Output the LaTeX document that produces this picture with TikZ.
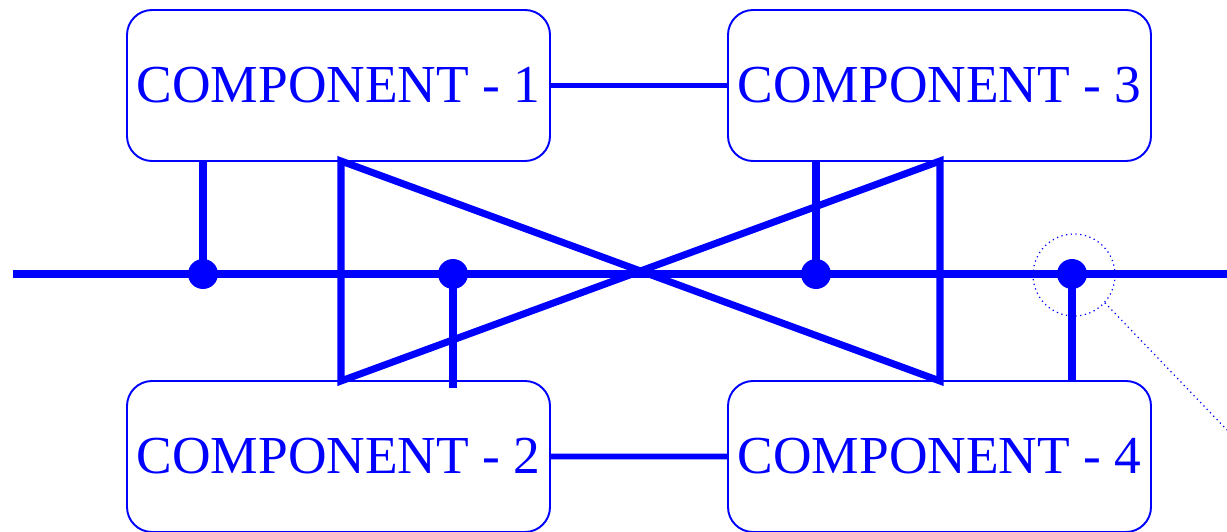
\documentclass[tikz,border=0pt]{standalone}
\usepackage{fontspec}
\setmainfont{Liberation Serif}
\usepackage{tikz}

\begin{document}
\begin{tikzpicture}[scale=0.2]
		\tikzstyle{every node}+=[inner sep=0pt]
		\tikzstyle{comp}=[draw=blue, line width=1.1pt, rounded corners=0.5cm, minimum width=8.46cm, minimum height=3.02cm, text=blue, font=\fontsize{30.4}{36}\selectfont]
		\tikzstyle{wire}=[blue, line width=4pt]
		\tikzstyle{tap}=[circle, fill=blue, minimum size=0.6cm]
		\useasboundingbox (0,0) rectangle (122.7,-53.2);
		\node [comp] (c1) at (33.85,-8.55) {COMPONENT - 1};
		\node [comp] (c3) at (93.95,-8.55) {COMPONENT - 3};
		\node [comp] (c2) at (33.85,-45.65) {COMPONENT - 2};
		\node [comp] (c4) at (93.95,-45.65) {COMPONENT - 4};
		\coordinate (busl) at (1.3,-27.4);
		\coordinate (busr) at (122.7,-27.4);
		\draw [wire] (busl) -- (busr);
		\node [tap] (d1) at (20.3,-27.4) {};
		\node [tap] (d2) at (45.3,-27.4) {};
		\node [tap] (d3) at (81.6,-27.4) {};
		\node [tap] (d4) at (107.2,-27.4) {};
		\draw [wire, line width=3.4pt] (c1) -- (c3);
		\draw [wire, line width=3.4pt] (c2) -- (c4);
		\draw [wire] (d1.center) -- (d1 |- c1.south);
		\coordinate (d2end) at (45.3,-38.8);
		\draw [wire] (d2.center) -- (d2end);
		\draw [wire] (d3.center) -- (d3 |- c3.south);
		\draw [wire] (d4.center) -- (d4 |- c4.north);
		\coordinate (tl) at (34.1,-16.1);
		\coordinate (bl) at (34.1,-38.1);
		\coordinate (tr) at (94.0,-16.1);
		\coordinate (br) at (94.0,-38.1);
		\draw [wire, line join=miter] (bl) -- (tl) -- (br) -- (tr) -- (bl) -- cycle;
		\node [draw=blue, circle, dotted, line width=0.7pt, minimum size=1.64cm] (ring) at (107.4,-27.5) {};
		\coordinate (far) at (122.7,-43.0);
		\draw [blue, dotted, line width=0.7pt] (ring.-42) -- (far);
\end{tikzpicture}
\end{document}
